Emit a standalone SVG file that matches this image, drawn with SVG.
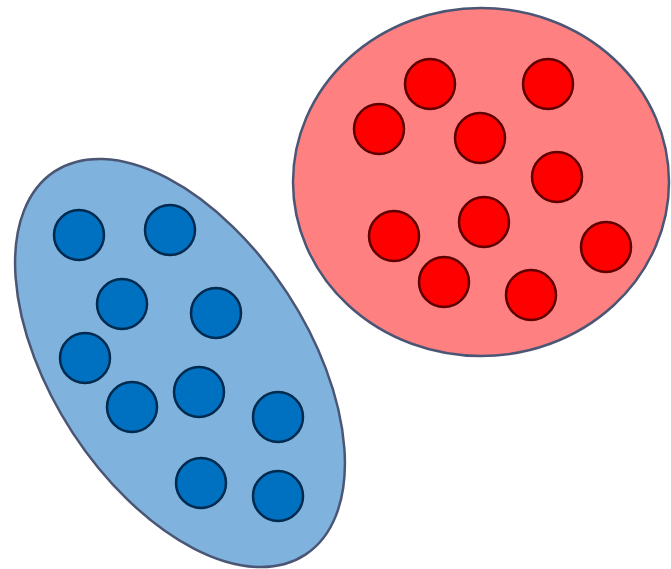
<svg xmlns="http://www.w3.org/2000/svg" width="671" height="569" viewBox="0 0 671 569">
<style>
.cl{stroke:#4b5675;stroke-width:2.5}
.b{fill:#0070c0;stroke:#022a4e;stroke-width:2.5}
.r{fill:#ff0000;stroke:#5e0000;stroke-width:2.5}
</style>
<rect width="671" height="569" fill="#ffffff"/>
<g id="blue-cluster">
<ellipse class="cl" cx="180" cy="363" rx="229" ry="128" transform="rotate(56.8 180 363)" fill="#7fb3dd"/>
<circle class="b" cx="79" cy="235" r="25"/>
<circle class="b" cx="170" cy="230" r="25"/>
<circle class="b" cx="122" cy="304" r="25"/>
<circle class="b" cx="216" cy="313" r="25"/>
<circle class="b" cx="85" cy="358" r="25"/>
<circle class="b" cx="132" cy="407" r="25"/>
<circle class="b" cx="199" cy="392" r="25"/>
<circle class="b" cx="278" cy="417" r="25"/>
<circle class="b" cx="201" cy="483" r="25"/>
<circle class="b" cx="278" cy="496" r="25"/>
</g>
<g id="red-cluster">
<ellipse class="cl" cx="481" cy="182" rx="188" ry="174" fill="#ff8080"/>
<circle class="r" cx="430" cy="84" r="25"/>
<circle class="r" cx="548" cy="84" r="25"/>
<circle class="r" cx="379" cy="129" r="25"/>
<circle class="r" cx="480" cy="138" r="25"/>
<circle class="r" cx="557" cy="177" r="25"/>
<circle class="r" cx="484" cy="222" r="25"/>
<circle class="r" cx="394" cy="236" r="25"/>
<circle class="r" cx="606" cy="247" r="25"/>
<circle class="r" cx="444" cy="282" r="25"/>
<circle class="r" cx="531" cy="295" r="25"/>
</g>
<g id="connectors"/>
</svg>
